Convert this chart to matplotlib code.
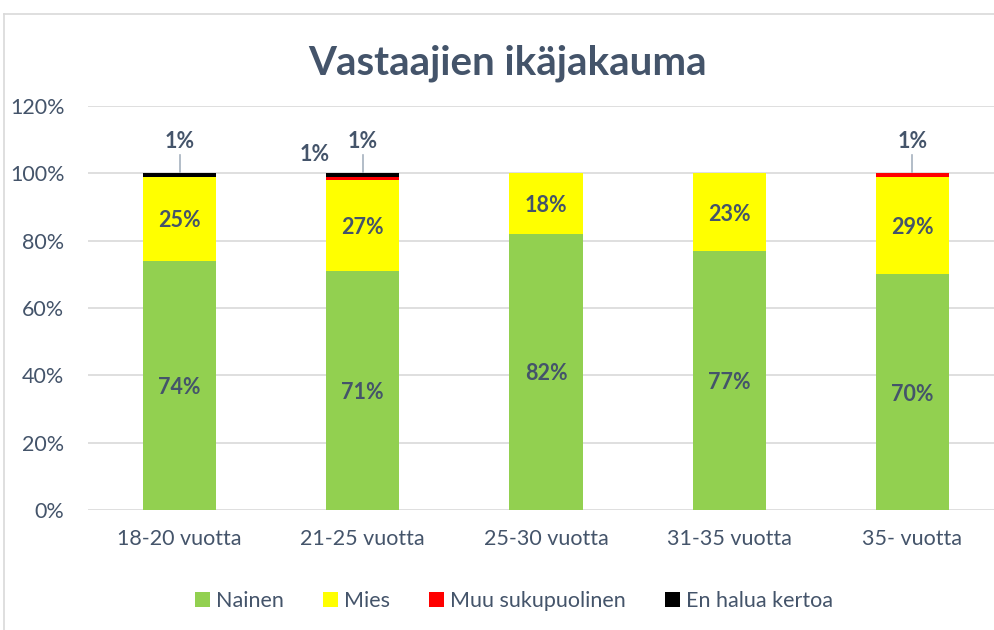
import matplotlib.pyplot as plt
from matplotlib.lines import Line2D
import numpy as np

# Data
categories = ["18-20 vuotta", "21-25 vuotta", "25-30 vuotta", "31-35 vuotta", "35- vuotta"]
nainen = [74, 71, 82, 77, 70]
mies = [25, 27, 18, 23, 29]
muu = [0, 1, 0, 0, 1]
en_halua = [1, 1, 0, 0, 0]

series = [("Nainen", nainen, "#92D050"),
          ("Mies", mies, "#FFFF00"),
          ("Muu sukupuolinen", muu, "#FF0000"),
          ("En halua kertoa", en_halua, "#000000")]

txt = "#44546A"
plt.rcParams['font.family'] = ['Lato', 'DejaVu Sans']

fig = plt.figure(figsize=(9.95, 6.3), dpi=100)
ax = fig.add_axes([88 / 995, 1 - 510 / 630, (1004 - 88) / 995, (510 - 106) / 630])

x = np.arange(len(categories))
bottom = np.zeros(len(categories))
for name, vals, col in series:
    vals = np.array(vals, dtype=float)
    ax.bar(x, vals, 0.4, bottom=bottom, color=col, label=name, zorder=2)
    if name in ("Nainen", "Mies"):
        for xi, b, v in zip(x, bottom, vals):
            if v > 0:
                ax.text(xi, b + v / 2, f"{int(v)}%", ha='center', va='center_baseline',
                        fontsize=15.5, fontweight='bold', color=txt, zorder=3)
    bottom += vals

# small labels above the bars
for xi in (0, 1, 4):
    ax.text(xi, 110, "1%", ha='center', va='center_baseline', fontsize=15.5,
            fontweight='bold', color=txt)
    ax.plot([xi, xi], [100.5, 105.3], color="#A6B2BF", lw=1.2, zorder=1)
ax.text(0.74, 106.3, "1%", ha='center', va='center_baseline', fontsize=15.5,
        fontweight='bold', color=txt)

ax.set_xlim(-0.5, 4.5)
ax.set_ylim(0, 120)
ax.set_yticks(np.arange(0, 121, 20))
ax.set_yticklabels([f"{v}%" for v in range(0, 121, 20)])
ax.set_xticks(x)
ax.set_xticklabels(categories)
ax.tick_params(axis='both', length=0, labelsize=15.5, colors=txt)
ax.tick_params(axis='y', pad=17)
ax.tick_params(axis='x', pad=14)
ax.yaxis.grid(True, color="#D9D9D9", lw=1.2, zorder=0)
ax.set_axisbelow(True)
for s in ax.spines.values():
    s.set_visible(False)

fig.text(508 / 995, 1 - 63 / 630, "Vastaajien ikäjakauma", ha='center', va='center',
         fontsize=29, fontweight='bold', color=txt)

# chart border
fig.add_artist(Line2D([4 / 995, 1], [1 - 14 / 630] * 2, color="#D9D9D9", lw=1.2))
fig.add_artist(Line2D([4 / 995] * 2, [0, 1 - 14 / 630], color="#D9D9D9", lw=1.2))

handles, labels = ax.get_legend_handles_labels()
leg = fig.legend(handles, labels, loc='center', bbox_to_anchor=(514 / 995, 1 - 601 / 630),
                 ncol=4, frameon=False, fontsize=15.5, handlelength=0.7, handleheight=0.7,
                 handletextpad=0.3, columnspacing=1.8)
for t in leg.get_texts():
    t.set_color(txt)

fig.savefig("out.png", dpi=100)
